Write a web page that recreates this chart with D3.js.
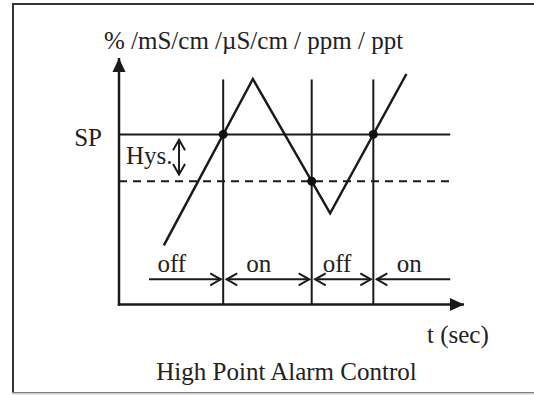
<!DOCTYPE html>
<html>
<head>
  <meta charset="utf-8">
  <script src="https://d3js.org/d3.v7.min.js"></script>
  <style>
    body { margin:0; background:#fff; }
    text { font-family:"Liberation Serif","Times New Roman",serif; fill:#222; }
  </style>
</head>
<body>
  <script>
    // signal trace (t, value), both in 0..100 units
    var signal = [[13, 24], [38.8, 91.5], [61.2, 37], [83.3, 93.5]];
    var setPoint = 69;
    var hysteresis = 19;
    var states = ["off", "on", "off", "on"];
    var stateLabelX = [15.3, 40.5, 63.2, 84.1];
    var rowStart = 8.7, rowEnd = 96;   // start / end of the on-off arrow row
    var yLabel = "% /mS/cm /\u00b5S/cm / ppm / ppt";
    var xLabel = "t (sec)";
    var title = "High Point Alarm Control";

    var svg = d3.select("body").append("svg")
      .attr("width", 534)
      .attr("height", 395);

    // cadre
    svg.append("rect").attr("x", 13).attr("y", 4).attr("width", 560).attr("height", 389)
      .attr("fill", "none").attr("stroke", "#333").attr("stroke-width", 2);
    svg.append("line").attr("x1", 12).attr("x2", 534).attr("y1", 393.5).attr("y2", 393.5)
      .attr("stroke", "#ccc").attr("stroke-width", 2);

    var x = d3.scaleLinear().domain([0, 100]).range([119, 464]);
    var y = d3.scaleLinear().domain([0, 100]).range([304.5, 58]);

    var defs = svg.append("defs");
    defs.append("marker").attr("id", "tri")
      .attr("markerUnits", "userSpaceOnUse")
      .attr("viewBox", "-15 -8 16 16").attr("markerWidth", 16).attr("markerHeight", 16)
      .attr("refX", 0).attr("refY", 0).attr("orient", "auto")
      .append("path").attr("d", "M-14,-6.5L0,0L-14,6.5Z").attr("fill", "#1a1a1a");
    defs.append("marker").attr("id", "vee")
      .attr("markerUnits", "userSpaceOnUse")
      .attr("viewBox", "-14 -8 16 16").attr("markerWidth", 16).attr("markerHeight", 16)
      .attr("refX", 0).attr("refY", 0).attr("orient", "auto-start-reverse")
      .append("path").attr("d", "M-11,-6L-0.5,0L-11,6").attr("fill", "none")
      .attr("stroke", "#1a1a1a").attr("stroke-width", 2);

    // switching times = where the trace crosses SP (rising) or SP-Hys (falling)
    function cross(a, b, level) {
      return a[0] + (level - a[1]) * (b[0] - a[0]) / (b[1] - a[1]);
    }
    var switches = [];
    for (var i = 0; i < signal.length - 1; i++) {
      var a = signal[i], b = signal[i + 1];
      var lev = b[1] > a[1] ? setPoint : setPoint - hysteresis;
      switches.push([cross(a, b, lev), lev]);
    }

    // lignes verticales de commutation
    svg.selectAll(".sw").data(switches).enter().append("line")
      .attr("x1", function(d) { return x(d[0]); })
      .attr("x2", function(d) { return x(d[0]); })
      .attr("y1", y(0)).attr("y2", y(91.3))
      .attr("stroke", "#1a1a1a").attr("stroke-width", 2);

    // SP et SP - Hys
    svg.append("line").attr("x1", x(0)).attr("x2", x(96))
      .attr("y1", y(setPoint)).attr("y2", y(setPoint))
      .attr("stroke", "#1a1a1a").attr("stroke-width", 2);
    svg.append("line").attr("x1", x(0)).attr("x2", x(96))
      .attr("y1", y(setPoint - hysteresis)).attr("y2", y(setPoint - hysteresis))
      .attr("stroke", "#1a1a1a").attr("stroke-width", 2).attr("stroke-dasharray", "8,6");

    // signal
    svg.append("path").datum(signal)
      .attr("d", d3.line().x(function(d) { return x(d[0]); }).y(function(d) { return y(d[1]); }))
      .attr("fill", "none").attr("stroke", "#1a1a1a").attr("stroke-width", 2.5);

    svg.selectAll(".dot").data(switches).enter().append("circle")
      .attr("cx", function(d) { return x(d[0]); })
      .attr("cy", function(d) { return y(d[1]); })
      .attr("r", 4.5).attr("fill", "#111");

    // axes
    svg.append("line").attr("x1", x(0)).attr("y1", y(0) + 1.2).attr("x2", x(0)).attr("y2", y(100))
      .attr("stroke", "#1a1a1a").attr("stroke-width", 2.5).attr("marker-end", "url(#tri)");
    svg.append("line").attr("x1", x(0) - 1.2).attr("y1", y(0)).attr("x2", x(100)).attr("y2", y(0))
      .attr("stroke", "#1a1a1a").attr("stroke-width", 2.5).attr("marker-end", "url(#tri)");

    // rangée on/off
    var bounds = [rowStart].concat(switches.map(function(d) { return d[0]; }), [rowEnd]);
    var rowY = y(10.2);
    states.forEach(function(s, i) {
      var x0 = x(bounds[i]), x1 = x(bounds[i + 1]);
      var ln = svg.append("line").attr("y1", rowY).attr("y2", rowY)
        .attr("stroke", "#1a1a1a").attr("stroke-width", 2);
      ln.attr("x1", i === 0 ? x0 : x0 + 3).attr("x2", i === states.length - 1 ? x1 : x1 - 2);
      if (i > 0) ln.attr("marker-start", "url(#vee)");
      if (i < states.length - 1) ln.attr("marker-end", "url(#vee)");
      svg.append("text").text(s)
        .attr("x", x(stateLabelX[i])).attr("y", y(13.2))
        .attr("text-anchor", "middle").attr("font-size", "25px");
    });

    // Hys double fleche
    svg.append("line").attr("x1", x(17.4)).attr("x2", x(17.4))
      .attr("y1", y(setPoint - 2)).attr("y2", y(setPoint - hysteresis + 2.5))
      .attr("stroke", "#1a1a1a").attr("stroke-width", 2)
      .attr("marker-start", "url(#vee)").attr("marker-end", "url(#vee)");

    // textes
    svg.append("text").text(yLabel).attr("x", 104).attr("y", 49).attr("font-size", "25px");
    svg.append("text").text("SP").attr("x", 102).attr("y", 146)
      .attr("text-anchor", "end").attr("font-size", "25px");
    svg.append("text").text("Hys.").attr("x", 126).attr("y", 164).attr("font-size", "25px");
    svg.append("text").text(xLabel).attr("x", 427).attr("y", 343).attr("font-size", "25px");
    svg.append("text").text(title).attr("x", 286.5).attr("y", 380)
      .attr("text-anchor", "middle").attr("font-size", "25px");
  </script>
</body>
</html>
